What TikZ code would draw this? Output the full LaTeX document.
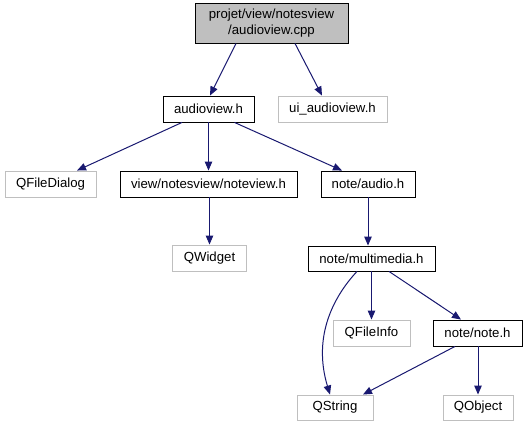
\documentclass[tikz,border=0pt]{standalone}
\usepackage{fontspec}
\setmainfont{Liberation Sans}
\usetikzlibrary{arrows.meta}
\definecolor{edgeblue}{HTML}{191970}
\definecolor{boxgray}{HTML}{BFBFBF}
\tikzset{
  box/.style={draw=black, line width=0.9pt, fill=white, inner sep=0pt, font=\fontsize{13.2}{16.5}\selectfont, align=center},
  extbox/.style={box, draw=boxgray},
  rootbox/.style={box, fill=boxgray},
  edge/.style={draw=edgeblue, line width=1pt, -{Triangle[length=9pt,width=7.5pt]}},
}
\begin{document}
\begin{tikzpicture}[x=1pt,y=-1pt]
\useasboundingbox (0,0) rectangle (528,427);
\node[rootbox, minimum width=153pt, minimum height=40pt] (root) at (271.5,23) {projet/view/notesview\\/audioview.cpp};
\node[box, minimum width=91pt, minimum height=26pt] (audioview) at (208.5,109) {audioview.h};
\node[extbox, minimum width=109pt, minimum height=26pt] (ui) at (332.5,109) {ui\_audioview.h};
\node[extbox, minimum width=91pt, minimum height=26pt] (qfiledialog) at (50.5,184) {QFileDialog};
\node[box, minimum width=177pt, minimum height=26pt] (noteview) at (208.5,184) {view/notesview/noteview.h};
\node[box, minimum width=94pt, minimum height=26pt] (audio) at (368,184) {note/audio.h};
\node[extbox, minimum width=74pt, minimum height=26pt] (qwidget) at (209.5,258) {QWidget};
\node[box, minimum width=127pt, minimum height=25pt] (multimedia) at (371.5,258.5) {note/multimedia.h};
\node[extbox, minimum width=77pt, minimum height=26pt] (qfileinfo) at (371.5,333) {QFileInfo};
\node[box, minimum width=89pt, minimum height=26pt] (note) at (477.5,333) {note/note.h};
\node[extbox, minimum width=76pt, minimum height=25pt] (qstring) at (335,407.5) {QString};
\node[extbox, minimum width=70pt, minimum height=25pt] (qobject) at (478,407.5) {QObject};

\draw[edge] ([xshift=-35.5pt]root.south) -- ([xshift=1.5pt]audioview.north);
\draw[edge] ([xshift=23.5pt]root.south) -- ([xshift=-10.5pt]ui.north);
\draw[edge] ([xshift=-26.5pt]audioview.south) -- ([xshift=26.5pt]qfiledialog.north);
\draw[edge] (audioview.south) -- (noteview.north);
\draw[edge] ([xshift=26pt]audioview.south) -- ([xshift=-26pt]audio.north);
\draw[edge] ([xshift=1pt]noteview.south) -- (qwidget.north);
\draw[edge] (audio.south) -- ([xshift=-3.5pt]multimedia.north);
\draw[edge] ([xshift=-14.5pt]multimedia.south) .. controls (335,295) and (312,335) .. ([xshift=-5pt]qstring.north);
\draw[edge] (multimedia.south) -- (qfileinfo.north);
\draw[edge] ([xshift=17.5pt]multimedia.south) -- ([xshift=-16.5pt]note.north);
\draw[edge] ([xshift=-22.5pt]note.south) -- ([xshift=28pt]qstring.north);
\draw[edge] ([xshift=0.5pt]note.south) -- (qobject.north);
\end{tikzpicture}
\end{document}
